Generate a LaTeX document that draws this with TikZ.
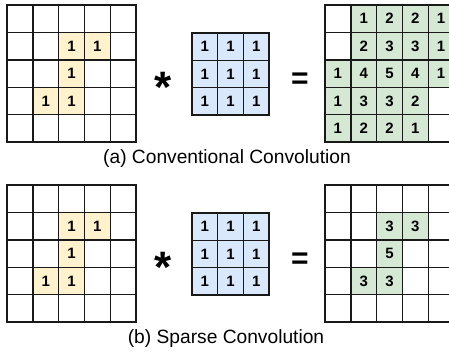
\documentclass[tikz,border=0pt]{standalone}
\usepackage{fontspec}
\setmainfont{Liberation Sans}
\begin{document}
\begin{tikzpicture}[x=1pt,y=-1pt,
  cell/.style={draw=black!90,line width=1.4pt,minimum width=25.8pt,minimum height=27.4pt,inner sep=0pt,fill=white,font=\fontsize{15}{16}\selectfont\bfseries},
  ycell/.style={cell,fill=yfill},
  bcell/.style={cell,fill=bfill},
  gcell/.style={cell,fill=gfill},
  captext/.style={font=\fontsize{19.2}{22}\selectfont,anchor=base,inner sep=0pt},
  startext/.style={inner sep=0pt,anchor=base,font=\fontsize{44}{44}\selectfont\bfseries},
  eqtext/.style={inner sep=0pt,anchor=base,font=\fontsize{30}{30}\selectfont\bfseries}]
\definecolor{yfill}{HTML}{FFF2CC}
\definecolor{bfill}{HTML}{DAE8FC}
\definecolor{gfill}{HTML}{D5E8D4}
\useasboundingbox (0,0) rectangle (449,354);
\clip (0,0) rectangle (449,354);
% ---------- (a) ----------
\foreach \r in {0,...,4}{\foreach \c in {0,...,4}{
  \node[cell] (a-in-\r-\c) at ({7+25.8*(\c+0.5)},{5+27.4*(\r+0.5)}) {};
  \node[cell] (a-out-\r-\c) at ({325+25.8*(\c+0.5)},{5+27.4*(\r+0.5)}) {};
}}
\foreach \r/\c in {1/2,1/3,2/2,3/1,3/2}{
  \node[ycell] (a-iny-\r-\c) at ({7+25.8*(\c+0.5)},{5+27.4*(\r+0.5)}) {1};
}
\foreach \r in {0,1,2}{\foreach \c in {0,1,2}{
  \node[bcell,minimum width=25.7pt,minimum height=27.3pt] (a-k-\r-\c) at ({192+25.7*(\c+0.5)},{33+27.3*(\r+0.5)}) {1};
}}
\foreach \r/\c/\v in {0/1/1,0/2/2,0/3/2,0/4/1,1/1/2,1/2/3,1/3/3,1/4/1,2/0/1,2/1/4,2/2/5,2/3/4,2/4/1,3/0/1,3/1/3,3/2/3,3/3/2,4/0/1,4/1/2,4/2/2,4/3/1}{
  \node[gcell] (a-outg-\r-\c) at ({325+25.8*(\c+0.5)},{5+27.4*(\r+0.5)}) {\v};
}
\node[startext] (a-star) at (163.5,102) {*};
\node[eqtext] (a-eq) at (300,88) {=};
\node[captext] (a-cap) at (227,163.5) {(a) Conventional Convolution};
% ---------- (b) ----------
\foreach \r in {0,...,4}{\foreach \c in {0,...,4}{
  \node[cell] (b-in-\r-\c) at ({7+25.8*(\c+0.5)},{185+27.4*(\r+0.5)}) {};
  \node[cell] (b-out-\r-\c) at ({325+25.8*(\c+0.5)},{185+27.4*(\r+0.5)}) {};
}}
\foreach \r/\c in {1/2,1/3,2/2,3/1,3/2}{
  \node[ycell] (b-iny-\r-\c) at ({7+25.8*(\c+0.5)},{185+27.4*(\r+0.5)}) {1};
}
\foreach \r in {0,1,2}{\foreach \c in {0,1,2}{
  \node[bcell,minimum width=25.7pt,minimum height=27.3pt] (b-k-\r-\c) at ({192+25.7*(\c+0.5)},{213+27.3*(\r+0.5)}) {1};
}}
\foreach \r/\c/\v in {1/2/3,1/3/3,2/2/5,3/1/3,3/2/3}{
  \node[gcell] (b-outg-\r-\c) at ({325+25.8*(\c+0.5)},{185+27.4*(\r+0.5)}) {\v};
}
\node[startext] (b-star) at (163.5,282) {*};
\node[eqtext] (b-eq) at (300,268) {=};
\node[captext] (b-cap) at (226,343.5) {(b) Sparse Convolution};
\end{tikzpicture}
\end{document}
